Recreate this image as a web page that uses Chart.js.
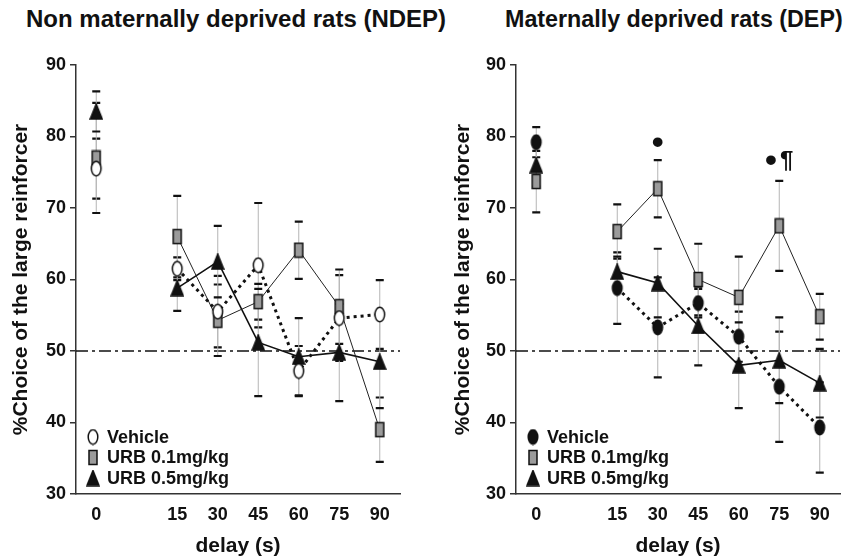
<!DOCTYPE html>
<html>
<head>
<meta charset="utf-8">
<script src="https://cdn.jsdelivr.net/npm/chart.js@4.4.1/dist/chart.umd.min.js"></script>
<style>
    body { margin: 0; background: #fff; }
    .wrap { position: relative; width: 850px; height: 559px; overflow: hidden; }
    .wrap canvas { position: absolute; top: 0; }
    #ndepChart { left: 0; }
    #depChart { left: 425px; }
    .panel-title {
        position: absolute; top: 5px;
        font-family: 'Liberation Sans', Arial, sans-serif;
        font-weight: bold; font-size: 24px; color: #111; white-space: nowrap;
        transform-origin: left top;
    }
</style>
</head>
<body>
<div class="wrap">
    <div class="panel-title" style="left: 26px;">Non maternally deprived rats (NDEP)</div>
    <div class="panel-title" style="left: 505px; transform: scaleX(0.97);">Maternally deprived rats (DEP)</div>
    <canvas id="ndepChart" width="425" height="559"></canvas>
    <canvas id="depChart" width="425" height="559"></canvas>
</div>
<script>
// delay (s) - boş kategori 0 ile 15 arasındaki boşluk için
const delays = ['0', '', '15', '30', '45', '60', '75', '90'];
const seriesNames = ['Vehicle', 'URB 0.1mg/kg', 'URB 0.5mg/kg'];

// NDEP
const ndepVehicle = [75.5, null, 61.5, 55.5, 62.0, 47.2, 54.6, 55.1];
const ndepVehicleSem = [4.2, null, 1.6, 5.0, 8.7, 3.5, 6.0, 4.8];
const ndepUrb01 = [77.0, null, 66.0, 54.3, 56.9, 64.1, 56.2, 39.0];
const ndepUrb01Sem = [7.7, null, 5.7, 5.0, 2.5, 4.0, 5.2, 4.5];
const ndepUrb05 = [83.5, null, 58.8, 62.5, 51.2, 49.2, 49.8, 48.5];
const ndepUrb05Sem = [2.8, null, 3.2, 5.0, 7.5, 5.4, 6.8, 6.5];

// DEP
const depVehicle = [79.2, null, 58.8, 53.3, 56.7, 52.0, 45.0, 39.3];
const depVehicleSem = [2.1, null, 5.0, 7.0, 2.0, 3.5, 7.7, 6.3];
const depUrb01 = [73.7, null, 66.7, 72.7, 60.0, 57.5, 67.5, 54.8];
const depUrb01Sem = [4.3, null, 3.8, 4.0, 5.0, 5.7, 6.3, 3.2];
const depUrb05 = [76.0, null, 61.1, 59.5, 53.5, 48.0, 48.7, 45.5];
const depUrb05Sem = [3.0, null, 2.1, 4.8, 5.5, 6.0, 6.0, 4.8];

// anlamlılık işaretleri: [kategori, y, metin]
const depMarks = [['30', 79, '•'], ['75', 76.5, '• ¶']];

const yTicks = [30, 40, 50, 60, 70, 80, 90];
const chanceLevel = 50;

const FONT = "'Liberation Sans', Arial, sans-serif";
const INK = '#111';

// nokta şekilleri (hafif dikey uzatılmış)
function makeMarker(shape, fill) {
    const c = document.createElement('canvas');
    c.width = 14;
    c.height = 17;
    const g = c.getContext('2d');
    g.fillStyle = fill;
    g.strokeStyle = '#111';
    g.lineWidth = 1.5;
    g.beginPath();
    if (shape === 'ellipse') {
        g.ellipse(7, 8.5, 4.8, 7.2, 0, 0, Math.PI * 2);
    } else if (shape === 'rect') {
        g.rect(3, 1.5, 8, 14);
    } else {
        g.moveTo(7, 1);
        g.lineTo(13, 16);
        g.lineTo(1, 16);
        g.closePath();
    }
    g.fill();
    g.stroke();
    return c;
}

const errorBars = {
    id: 'errorBars',
    beforeDatasetsDraw(chart) {
        const { ctx } = chart;
        const xs = chart.scales.x;
        const ys = chart.scales.y;
        ctx.save();
        chart.data.datasets.forEach(ds => {
            ds.data.forEach((v, i) => {
                if (v === null) return;
                const px = xs.getPixelForValue(i);
                const top = ys.getPixelForValue(v + ds.sem[i]);
                const bot = ys.getPixelForValue(v - ds.sem[i]);
                ctx.strokeStyle = '#b5b5b5';
                ctx.lineWidth = 1;
                ctx.beginPath();
                ctx.moveTo(px, top);
                ctx.lineTo(px, bot);
                ctx.stroke();
                ctx.strokeStyle = '#111';
                ctx.lineWidth = 2.2;
                ctx.beginPath();
                ctx.moveTo(px - 4, top);
                ctx.lineTo(px + 4, top);
                ctx.moveTo(px - 4, bot);
                ctx.lineTo(px + 4, bot);
                ctx.stroke();
            });
        });
        ctx.restore();
    }
};

const chanceLine = {
    id: 'chanceLine',
    beforeDatasetsDraw(chart) {
        const { ctx, chartArea } = chart;
        const py = chart.scales.y.getPixelForValue(chanceLevel);
        ctx.save();
        ctx.strokeStyle = '#111';
        ctx.lineWidth = 1.6;
        ctx.setLineDash([12, 4, 3, 4]);
        ctx.beginPath();
        ctx.moveTo(chartArea.left, py);
        ctx.lineTo(chartArea.right, py);
        ctx.stroke();
        ctx.restore();
    }
};

// lejant grafik alanının sol alt köşesinde
const innerLegend = {
    id: 'innerLegend',
    afterDraw(chart) {
        const { ctx, chartArea } = chart;
        ctx.save();
        ctx.font = 'bold 18px ' + FONT;
        ctx.fillStyle = INK;
        ctx.textBaseline = 'middle';
        chart.data.datasets.forEach((ds, i) => {
            const y = chartArea.bottom - 57 + i * 20.5;
            const img = ds.pointStyle;
            ctx.drawImage(img, chartArea.left + 17 - img.width / 2, y - img.height / 2);
            ctx.fillText(ds.label, chartArea.left + 31, y + 1);
        });
        ctx.restore();
    }
};

// işaretler: nokta büyük, ¶ normal boyutta
const markText = {
    id: 'markText',
    afterDatasetsDraw(chart, args, opts) {
        if (!opts.marks) return;
        const { ctx } = chart;
        ctx.save();
        ctx.fillStyle = INK;
        ctx.textBaseline = 'middle';
        opts.marks.forEach(([cat, v, txt]) => {
            const parts = txt.split(' ').map(p => ({ p, font: 'bold ' + (p === '•' ? 34 : 24) + 'px ' + FONT }));
            const widths = parts.map(o => { ctx.font = o.font; return ctx.measureText(o.p).width; });
            const gap = 3;
            const total = widths.reduce((a, b) => a + b, 0) + gap * (parts.length - 1);
            let x = chart.scales.x.getPixelForValue(delays.indexOf(cat)) - total / 2;
            const y = chart.scales.y.getPixelForValue(v);
            parts.forEach((o, k) => {
                ctx.font = o.font;
                ctx.fillText(o.p, x, y);
                x += widths[k] + gap;
            });
        });
        ctx.restore();
    }
};

function makePanel(id, vehicle, vehicleSem, urb01, urb01Sem, urb05, urb05Sem, opts) {
    const ctx = document.getElementById(id).getContext('2d');
    return new Chart(ctx, {
        type: 'line',
        data: {
            labels: delays,
            datasets: [{
                label: seriesNames[0],
                data: vehicle,
                sem: vehicleSem,
                borderColor: '#111',
                borderWidth: 3,
                borderDash: [3, 4],
                pointStyle: makeMarker('ellipse', opts.vehicleFill)
            }, {
                label: seriesNames[1],
                data: urb01,
                sem: urb01Sem,
                borderColor: '#222',
                borderWidth: 1,
                pointStyle: makeMarker('rect', '#9b9b9b')
            }, {
                label: seriesNames[2],
                data: urb05,
                sem: urb05Sem,
                borderColor: '#111',
                borderWidth: 1.6,
                pointStyle: makeMarker('triangle', '#111')
            }]
        },
        options: {
            responsive: false,
            animation: false,
            spanGaps: false,
            layout: {
                padding: { top: 65, right: opts.padRight, bottom: 0, left: 0 }
            },
            scales: {
                x: {
                    type: 'category',
                    offset: true,
                    afterFit: s => { s.height = 65; },
                    grid: { display: false, drawTicks: false },
                    border: { color: '#333', width: 1.5 },
                    ticks: { color: INK, padding: 10, autoSkip: false, maxRotation: 0, font: { family: FONT, size: 18, weight: 'bold' } },
                    title: {
                        display: true,
                        text: 'delay (s)',
                        color: INK,
                        padding: { top: 0, bottom: 0 },
                        font: { family: FONT, size: 21, weight: 'bold' }
                    }
                },
                y: {
                    min: yTicks[0],
                    max: yTicks[yTicks.length - 1],
                    afterFit: s => { s.width = opts.yWidth; },
                    afterBuildTicks: s => { s.ticks = yTicks.map(v => ({ value: v })); },
                    grid: { drawOnChartArea: false, tickLength: 6, color: '#333', lineWidth: 1.5 },
                    border: { color: '#333', width: 1.5 },
                    ticks: { color: INK, padding: 4, font: { family: FONT, size: 18, weight: 'bold' } },
                    title: {
                        display: true,
                        text: '%Choice of the large reinforcer',
                        color: INK,
                        padding: { top: opts.yTitlePad, bottom: 0 },
                        font: { family: FONT, size: 21, weight: 'bold' }
                    }
                }
            },
            elements: {
                point: { radius: 7, hoverRadius: 7 },
                line: { tension: 0 }
            },
            plugins: {
                legend: { display: false },
                tooltip: { enabled: false },
                markText: { marks: opts.marks }
            }
        },
        plugins: [chanceLine, errorBars, markText, innerLegend]
    });
}

document.addEventListener('DOMContentLoaded', () => {
    // Annesinden ayrılmamış sıçanlar
    makePanel('ndepChart', ndepVehicle, ndepVehicleSem, ndepUrb01, ndepUrb01Sem, ndepUrb05, ndepUrb05Sem, {
        vehicleFill: '#fff', padRight: 25, yWidth: 76, yTitlePad: 9, marks: null
    });
    // Annesinden ayrılmış sıçanlar
    makePanel('depChart', depVehicle, depVehicleSem, depUrb01, depUrb01Sem, depUrb05, depUrb05Sem, {
        vehicleFill: '#111', padRight: 8, yWidth: 91, yTitlePad: 26, marks: depMarks
    });
});
</script>
</body>
</html>
